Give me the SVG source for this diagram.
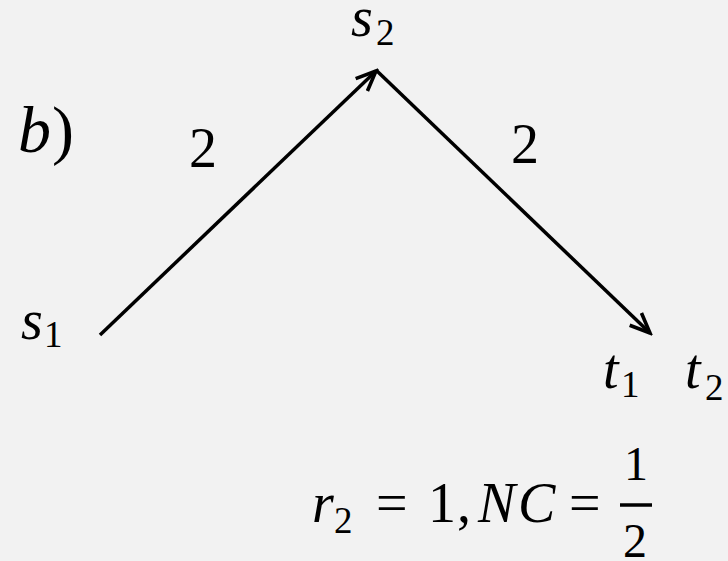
<svg xmlns="http://www.w3.org/2000/svg" width="728" height="561" viewBox="0 0 728 561">
<defs>
<style>
text{font-family:"Liberation Serif","DejaVu Serif",serif;fill:#000;font-size:56px}
.i{font-style:italic}
.sub{font-size:37px}
.fr{font-size:48px}
.e{stroke:#000;stroke-width:3.5;fill:none}
</style>
<marker id="ah" viewBox="0 0 24 22" refX="21" refY="11" markerWidth="24" markerHeight="22" markerUnits="userSpaceOnUse" orient="auto">
<path d="M1,2.5 L21,11 L1,19.5" fill="none" stroke="#000" stroke-width="3.6" stroke-linejoin="miter"/>
</marker>
</defs>
<rect width="728" height="561" fill="#f2f2f2"/>
<g id="connectors">
<line class="e" x1="100" y1="335" x2="376" y2="71" marker-end="url(#ah)"/>
<line class="e" x1="377" y1="71" x2="650" y2="333" marker-end="url(#ah)"/>
<text x="189" y="167">2</text>
<text x="511" y="163">2</text>
</g>
<g id="label-b"><text class="i" x="18" y="152" style="font-size:66px">b</text><text x="52" y="152" style="font-size:66px">)</text></g>
<g id="s2"><text class="i" x="351" y="36">s</text><text class="sub" x="376" y="45">2</text></g>
<g id="s1"><text class="i" x="21" y="339">s</text><text class="sub" x="44" y="347">1</text></g>
<g id="t1"><text class="i" x="603" y="388">t</text><text class="sub" x="621" y="397">1</text></g>
<g id="t2"><text class="i" x="685" y="388">t</text><text class="sub" x="705" y="400">2</text></g>
<g id="formula">
<text class="i" x="312" y="522">r</text>
<text class="sub" x="334" y="533">2</text>
<text x="376" y="522">=</text>
<text x="428" y="522">1</text>
<text x="457" y="522">,</text>
<text class="i" x="478" y="522">N</text>
<text class="i" x="518" y="522">C</text>
<text x="569" y="522">=</text>
<text class="fr" x="636" y="480" text-anchor="middle">1</text>
<line x1="620" y1="505" x2="652" y2="505" stroke="#000" stroke-width="3.5"/>
<text class="fr" x="635" y="557" text-anchor="middle">2</text>
</g>
</svg>
